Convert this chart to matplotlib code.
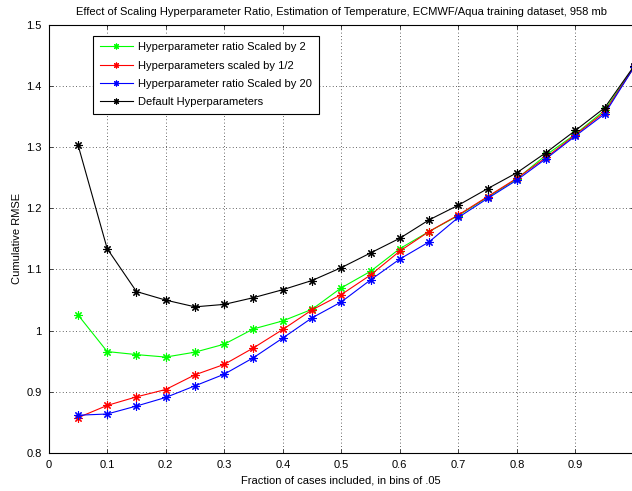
"Effect of scaling hyperparameter ratio on cumulative RMSE."
import matplotlib
matplotlib.use("Agg")
import matplotlib.pyplot as plt
from matplotlib.ticker import FuncFormatter

plt.rcParams['font.family'] = ['Liberation Sans', 'DejaVu Sans']

fraction = [0.05, 0.10, 0.15, 0.20, 0.25, 0.30, 0.35, 0.40, 0.45, 0.50,
            0.55, 0.60, 0.65, 0.70, 0.75, 0.80, 0.85, 0.90, 0.95, 1.00]

scaled_2 = [1.026, 0.966, 0.961, 0.957, 0.965, 0.978, 1.003, 1.016, 1.035, 1.070,
            1.097, 1.134, 1.162, 1.188, 1.218, 1.248, 1.287, 1.321, 1.360, 1.430]
scaled_half = [0.858, 0.878, 0.892, 0.904, 0.928, 0.945, 0.972, 1.002, 1.034, 1.059,
               1.091, 1.130, 1.162, 1.189, 1.219, 1.249, 1.283, 1.320, 1.357, 1.430]
scaled_20 = [0.862, 0.864, 0.877, 0.891, 0.910, 0.929, 0.956, 0.988, 1.021, 1.047,
             1.083, 1.117, 1.145, 1.185, 1.216, 1.246, 1.281, 1.318, 1.354, 1.430]
default = [1.304, 1.134, 1.064, 1.050, 1.039, 1.043, 1.054, 1.067, 1.082, 1.103,
           1.127, 1.151, 1.181, 1.205, 1.232, 1.258, 1.291, 1.327, 1.364, 1.432]

series = [
    (scaled_2, (0, 1, 0), "Hyperparameter ratio Scaled by 2"),
    (scaled_half, (1, 0, 0), "Hyperparameters scaled by 1/2"),
    (scaled_20, (0, 0, 1), "Hyperparameter ratio Scaled by 20"),
    (default, (0, 0, 0), "Default Hyperparameters"),
]

fig = plt.figure(figsize=(6.32, 4.91), dpi=100)
ax = fig.add_axes([0.077, 0.077, 0.926, 0.873])

# matlab style asterisk marker
for values, color, label in series:
    ax.plot(fraction, values, color=color, linewidth=0.8, marker=(8, 2, 0),
            markersize=6, markeredgewidth=0.8, label=label)

ax.set_xlim(0, 1)
ax.set_ylim(0.8, 1.5)
ax.set_xticks([i / 10 for i in range(11)])
ax.set_yticks([0.8 + i / 10 for i in range(8)])
ax.xaxis.set_major_formatter(FuncFormatter(lambda v, p: f"{v:g}"))
ax.yaxis.set_major_formatter(FuncFormatter(lambda v, p: f"{round(v, 1):g}"))
ax.tick_params(direction='in', top=True, right=True, labelsize=8, length=3,
               width=0.5, colors='black', pad=5)
ax.grid(True, linestyle=(0, (1, 3)), color='#333333', linewidth=0.6)
for s in ax.spines.values():
    s.set_linewidth(0.8)

ax.set_title("Effect of Scaling Hyperparameter Ratio, Estimation of Temperature, "
             "ECMWF/Aqua training dataset, 958 mb", fontsize=8, pad=7)
ax.set_xlabel("Fraction of cases included, in bins of .05", fontsize=8, labelpad=4)
ax.set_ylabel("Cumulative RMSE", fontsize=8, labelpad=3)

leg = ax.legend(loc='upper left', bbox_to_anchor=(0.076, 0.974), borderaxespad=0,
                fontsize=8, fancybox=False, edgecolor='black', framealpha=1,
                handlelength=3.0, handletextpad=0.45, labelspacing=0.75,
                borderpad=0.6, markerscale=0.7)
leg.get_frame().set_linewidth(0.8)

fig.savefig("out.png", dpi=100)
